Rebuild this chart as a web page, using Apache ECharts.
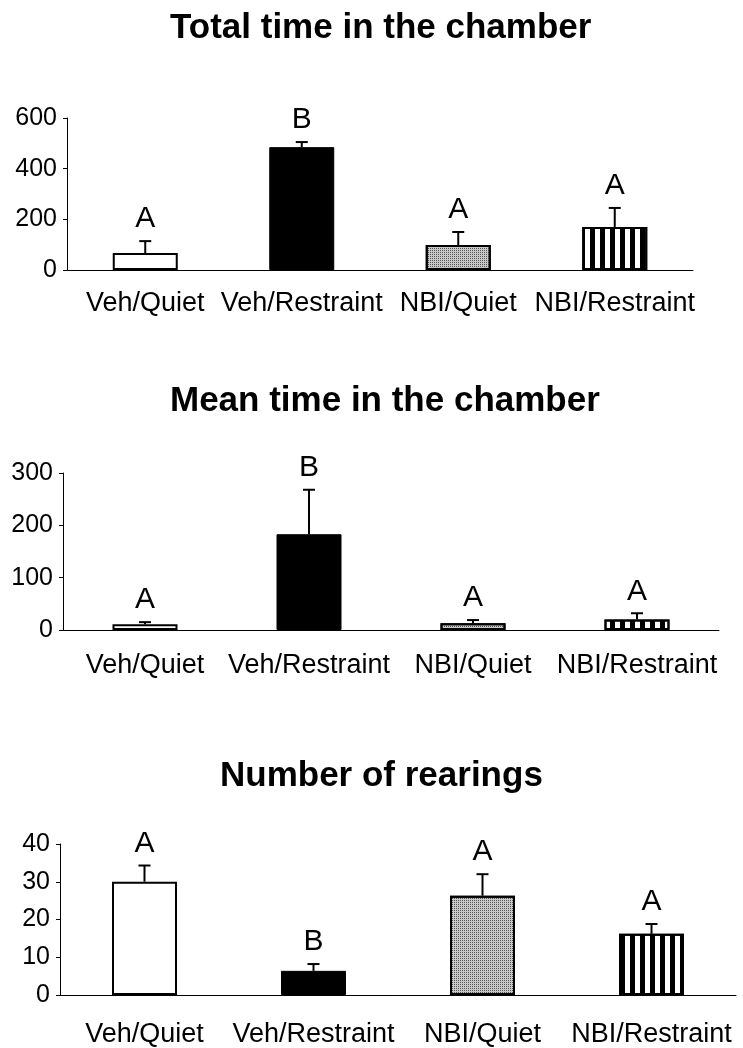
<!DOCTYPE html>
<html>
<head>
<meta charset="utf-8">
<script src="https://cdn.jsdelivr.net/npm/echarts@6/dist/echarts.min.js"></script>
<style>
html,body{margin:0;padding:0;background:#fff;}
#chart{width:743px;height:1048px;}
</style>
</head>
<body>
<div id="chart"></div>
<script>
// ---- data ----
const categories = ['Veh/Quiet', 'Veh/Restraint', 'NBI/Quiet', 'NBI/Restraint'];

const totalTime = [67, 485, 99, 170];
const totalErr = [47, 20, 51, 75];
const totalLetters = ['A', 'B', 'A', 'A'];
const totalTicks = [0, 200, 400, 600];

const meanTime = [11, 183, 13, 20];
const meanErr = [4, 85, 6, 12];
const meanLetters = ['A', 'B', 'A', 'A'];
const meanTicks = [0, 100, 200, 300];

const rearings = [30, 6.4, 26.3, 16.2];
const rearErr = [4.3, 1.8, 5.7, 2.6];
const rearLetters = ['A', 'B', 'A', 'A'];
const rearTicks = [0, 10, 20, 30, 40];

const titles = ['Total time in the chamber', 'Mean time in the chamber', 'Number of rearings'];

// ---- styles ----
const FONT = "'Liberation Sans', Arial, Helvetica, sans-serif";
const barStyles = [
  { color: '#ffffff', borderColor: '#000', borderWidth: 2 },
  { color: '#000000', borderColor: '#000', borderWidth: 1 },
  { color: '#c8c8c8', borderColor: '#000', borderWidth: 2,
    decal: { symbol: 'rect', symbolSize: 1, dashArrayX: [1, 1], dashArrayY: [1, 1], color: '#555555' } },
  { color: '#ffffff', borderColor: '#000', borderWidth: 2,
    decal: { symbol: 'rect', symbolSize: 1, dashArrayX: [5, 5], dashArrayY: [10, 0], color: '#000000' } }
];

const panels = [
  { vals: totalTime, errs: totalErr, letters: totalLetters, ticks: totalTicks,
    grid: { left: 67, top: 118, width: 626, height: 152 }, labelMargin: 20, title: { left: 165, top: 6 } },
  { vals: meanTime, errs: meanErr, letters: meanLetters, ticks: meanTicks,
    grid: { left: 63, top: 473, width: 656, height: 157 }, labelMargin: 22, title: { left: 165, top: 379 } },
  { vals: rearings, errs: rearErr, letters: rearLetters, ticks: rearTicks,
    grid: { left: 60, top: 844, width: 676, height: 155 }, labelMargin: 26, title: { left: 215, top: 754 } }
];

const option = {
  animation: false,
  backgroundColor: '#fff',
  title: [], grid: [], xAxis: [], yAxis: [], series: []
};

panels.forEach((p, k) => {
  option.title.push({
    text: titles[k], left: p.title.left, top: p.title.top,
    textStyle: { fontFamily: FONT, fontSize: 35, fontWeight: 'bold', color: '#000' }
  });
  option.grid.push(Object.assign({ containLabel: false }, p.grid));
  option.xAxis.push({
    type: 'category', gridIndex: k, data: categories,
    axisLine: { lineStyle: { color: '#000', width: 1 } },
    axisTick: { show: false },
    axisLabel: { interval: 0, margin: p.labelMargin, fontFamily: FONT, fontSize: 27, color: '#000' }
  });
  const tmin = p.ticks[0], tmax = p.ticks[p.ticks.length - 1];
  option.yAxis.push({
    type: 'value', gridIndex: k, min: tmin, max: tmax, interval: p.ticks[1] - p.ticks[0],
    axisLine: { show: true, lineStyle: { color: '#000', width: 1 } },
    axisTick: { show: true, length: 4, lineStyle: { color: '#000' } },
    splitLine: { show: false },
    axisLabel: { margin: 10, fontFamily: FONT, fontSize: 25, color: '#000' }
  });
  option.series.push({
    type: 'bar', xAxisIndex: k, yAxisIndex: k, barWidth: 65,
    data: p.vals.map((v, i) => ({ value: v, itemStyle: barStyles[i] }))
  });
  option.series.push({
    type: 'custom', xAxisIndex: k, yAxisIndex: k, z: 5,
    data: p.vals.map((v, i) => [i, v, p.errs[i]]),
    renderItem: function (params, api) {
      const i = api.value(0), v = api.value(1), e = api.value(2);
      const b = api.coord([i, v]);
      const t = api.coord([i, v + e]);
      return {
        type: 'group',
        children: [
          { type: 'line', shape: { x1: b[0], y1: b[1], x2: t[0], y2: t[1] }, style: { stroke: '#000', lineWidth: 2 } },
          { type: 'line', shape: { x1: t[0] - 6, y1: t[1], x2: t[0] + 6, y2: t[1] }, style: { stroke: '#000', lineWidth: 2 } },
          { type: 'text', x: t[0], y: t[1] - 7,
            style: { text: p.letters[params.dataIndex], fontFamily: FONT, fontSize: 30, fill: '#000',
                     align: 'center', verticalAlign: 'bottom' } }
        ]
      };
    }
  });
});

const chart = echarts.init(document.getElementById('chart'), null, { renderer: 'canvas' });
chart.setOption(option);
</script>
</body>
</html>
